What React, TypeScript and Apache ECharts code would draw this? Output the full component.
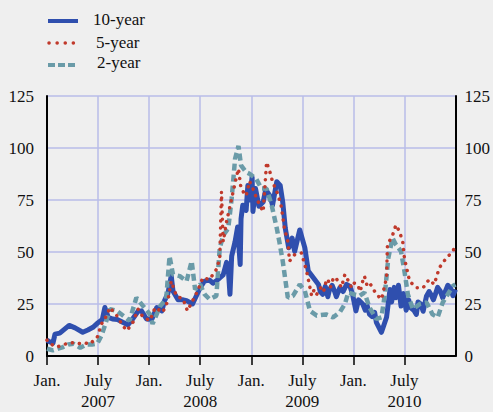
import React, { useEffect, useRef } from "react";
import * as echarts from "echarts";

// x positions are months since Jan. 2007
const tenYearMonths = [0, 0.23, 0.7, 0.94, 1.5, 2.6, 3.3, 4.2, 4.8, 5.4, 6.0, 6.5, 6.8, 7.2, 7.7, 8.3, 8.9, 9.5, 10.1, 10.7, 11.1, 11.7, 12.3, 12.9, 13.5, 13.8, 14.2, 14.6, 14.8, 15.4, 16.0, 16.4, 17.1, 18.0, 18.5, 19.1, 19.5, 20.1, 20.7, 21.1, 21.3, 21.5, 21.7, 22.1, 22.4, 22.7, 22.8, 23.0, 23.4, 23.6, 23.8, 24.1, 24.2, 24.5, 24.9, 25.4, 25.7, 26.2, 26.5, 27.0, 27.4, 27.7, 28.0, 28.4, 28.8, 29.1, 29.7, 30.3, 30.7, 31.3, 31.9, 32.1, 32.4, 32.7, 33.0, 33.2, 33.5, 33.8, 34.0, 34.4, 34.8, 35.2, 35.6, 35.9, 36.3, 36.6, 37.1, 37.4, 37.6, 37.9, 38.2, 38.5, 38.7, 39.3, 39.9, 40.3, 40.5, 40.8, 41.0, 41.3, 41.6, 41.9, 42.2, 42.5, 42.7, 43.1, 43.4, 43.6, 43.9, 44.2, 44.6, 44.9, 45.1, 45.4, 45.7, 45.9, 46.2, 46.5, 46.9, 47.1, 47.4, 47.7, 48.0];
const tenYearValues = [7.6, 7, 6.2, 10.5, 11, 14.7, 13.5, 11.4, 12.5, 13.8, 16, 17.5, 23.3, 18.6, 17.8, 17.5, 16.2, 15, 18, 21.5, 21.7, 17.8, 17.5, 23.3, 21.7, 26.5, 30, 38.5, 31.3, 27, 27, 26.6, 25, 32.8, 36, 36.5, 35, 36.8, 39, 45, 42, 29.7, 48, 55, 62, 44, 66, 72.5, 70, 82, 75, 86, 69.5, 80.5, 72, 74, 80, 77, 72.5, 83.8, 82, 74, 61.4, 52, 56.7, 50.3, 60.6, 52, 40.8, 37.6, 34.4, 31, 29.7, 33.5, 28.5, 32, 34, 31, 28.5, 32.8, 31, 34.4, 33.5, 29.7, 21.7, 27, 25, 22, 24.5, 20, 19, 21, 16.2, 11.4, 18.6, 32, 26, 33, 28, 34, 24, 30, 22, 27, 23.3, 22, 20, 26, 25, 21.5, 28.9, 31, 29.7, 27, 30.5, 33, 31.3, 28, 32, 34, 32.8, 29, 32];

const fiveYearMonths = [0, 0.35, 1.2, 1.9, 2.7, 3.3, 3.9, 4.5, 5.0, 5.9, 6.4, 7.0, 7.4, 8.2, 8.9, 9.4, 10.1, 10.7, 11.3, 12.1, 12.7, 13.6, 14.2, 14.6, 15.2, 16.0, 16.5, 17.1, 17.7, 18.3, 19.1, 19.9, 20.3, 20.5, 20.7, 21.1, 21.7, 22.3, 22.5, 22.8, 23.4, 23.8, 24.2, 24.6, 25.0, 25.4, 25.8, 26.2, 26.5, 27.1, 27.5, 27.9, 28.3, 28.5, 29.1, 29.9, 30.5, 31.1, 31.4, 31.7, 32.2, 32.5, 32.8, 33.0, 33.3, 33.6, 33.9, 34.3, 34.6, 35.0, 35.3, 35.8, 36.1, 36.5, 36.8, 37.1, 37.3, 37.6, 37.9, 38.7, 39.3, 39.9, 40.0, 40.6, 41.0, 41.4, 41.8, 42.0, 42.6, 43.4, 44.2, 44.9, 45.5, 46.1, 46.9, 47.7, 48.0];
const fiveYearValues = [7.6, 5.9, 4.3, 5.5, 6.2, 6.5, 5.9, 6.3, 5.7, 9, 15.4, 19.4, 23.3, 19.4, 14.6, 12.2, 16.2, 22.5, 18.6, 17, 23.3, 21, 26.5, 36, 28.9, 27.3, 21.7, 26.5, 31.3, 37.6, 36.8, 41.6, 47, 79, 55, 64.6, 75.7, 86.8, 90, 80.5, 77, 84, 80.5, 76, 72.5, 69.4, 93.2, 88.4, 83.8, 78, 72.5, 61.4, 55, 45.6, 48.7, 49.5, 40.8, 28.9, 32, 29.7, 33, 31, 36, 37, 33, 36.8, 38, 35, 33, 39.2, 37, 32.8, 35, 34.4, 31, 36, 38.4, 34, 35.2, 29.7, 27.3, 37.6, 53.5, 58, 63, 60, 55, 47, 36, 32.8, 32.8, 36.8, 34.4, 42.4, 47, 50.3, 53.5];

const twoYearMonths = [0, 0.7, 1.3, 1.9, 2.5, 3.1, 3.9, 4.7, 5.3, 5.9, 6.4, 6.8, 7.4, 8.2, 9.2, 9.7, 10.5, 11.3, 12.1, 12.4, 13.3, 14.0, 14.4, 14.8, 15.6, 16.4, 17.0, 17.4, 18.0, 18.5, 19.1, 19.9, 20.3, 20.7, 21.3, 21.7, 22.1, 22.5, 22.8, 23.4, 23.8, 24.6, 25.2, 25.8, 26.4, 27.0, 27.3, 27.7, 28.3, 28.9, 29.7, 30.3, 30.9, 31.7, 32.8, 33.6, 34.4, 35.0, 35.4, 36.0, 36.7, 37.3, 37.9, 38.7, 39.3, 39.7, 40.1, 40.6, 41.0, 41.6, 42.0, 42.4, 43.0, 43.8, 44.6, 45.3, 45.9, 46.5, 47.1, 47.7, 48.0];
const twoYearValues = [3.5, 2.7, 3.5, 4.3, 5.5, 5.9, 4, 5.6, 5.5, 5.9, 9.8, 14.6, 22.5, 21.7, 18.6, 17, 28, 24, 20, 15.4, 24, 27.3, 48, 39.2, 38.4, 36, 45.6, 32, 34.4, 29.7, 27.3, 28.9, 51.9, 58, 61.4, 75.7, 94.8, 101, 91.6, 88.4, 87.6, 85, 80.5, 80.5, 72.5, 61.4, 55, 45.6, 28, 28.9, 34.4, 31.3, 21.7, 19.4, 20, 18.6, 21, 25, 30.5, 29.7, 28.9, 30.5, 23.3, 17.8, 18.6, 29.7, 47, 56.7, 53.5, 50.3, 40.8, 29.7, 22.5, 25, 25.7, 20, 18.6, 25.7, 29.7, 33.7, 34.4];

const yTicks = [0, 25, 50, 75, 100, 125];
const seriesNames = ["10-year", "5-year", "2-year"];
const startYear = 2007;

const BLUE = "#2f4fae";
const RED = "#c0392b";
const TEAL = "#6a9ba8";
const GRID = "#b9bde8";
const FONT = "Liberation Serif";

const pair = (xs: number[], ys: number[]) => xs.map((x, i) => [x, ys[i]]);

export default function App() {
  const ref = useRef<HTMLDivElement>(null);
  useEffect(() => {
    if (!ref.current) return;
    const chart = echarts.init(ref.current, null, { renderer: "svg" });
    const labelStyle = { fontFamily: FONT, fontSize: 17, color: "#111" };
    chart.setOption({
      animation: false,
      backgroundColor: "#efefef",
      grid: { left: 47, right: 37, top: 96, bottom: 52 },
      xAxis: {
        type: "value",
        min: 0,
        max: 48,
        interval: 6,
        axisLine: { show: true, lineStyle: { color: "#000", width: 2 } },
        axisTick: { show: true, length: 9, lineStyle: { color: "#000", width: 1.5 } },
        splitLine: { show: true, lineStyle: { color: GRID, width: 1.5 } },
        axisLabel: {
          ...labelStyle,
          margin: 14,
          lineHeight: 21,
          showMaxLabel: false,
          formatter: (v: number) => {
            const m = Math.round(v);
            if (m % 12 === 0) return "Jan.";
            return "July\n" + (startYear + Math.floor(m / 12));
          },
        },
      },
      yAxis: [
        {
          type: "value",
          min: 0,
          max: 125,
          interval: 25,
          position: "left",
          axisLine: { show: true, lineStyle: { color: "#000", width: 2 } },
          axisTick: { show: false },
          splitLine: { show: true, lineStyle: { color: GRID, width: 1.5 } },
          axisLabel: { ...labelStyle, margin: 13, formatter: (v: number) => (yTicks.includes(v) ? String(v) : "") },
        },
        {
          type: "value",
          min: 0,
          max: 125,
          interval: 25,
          position: "right",
          axisLine: { show: true, lineStyle: { color: "#000", width: 2 } },
          axisTick: { show: false },
          splitLine: { show: false },
          axisLabel: { ...labelStyle, margin: 9, formatter: (v: number) => (yTicks.includes(v) ? String(v) : "") },
        },
      ],
      series: [
        {
          name: seriesNames[0],
          type: "line",
          data: pair(tenYearMonths, tenYearValues),
          showSymbol: false,
          symbol: "none",
          lineStyle: { color: BLUE, width: 5, join: "round" },
          z: 2,
        },
        {
          name: seriesNames[2],
          type: "line",
          data: pair(twoYearMonths, twoYearValues),
          showSymbol: false,
          symbol: "none",
          lineStyle: { color: TEAL, width: 4.5, type: [7, 4] },
          z: 3,
        },
        {
          name: seriesNames[1],
          type: "line",
          data: pair(fiveYearMonths, fiveYearValues),
          showSymbol: false,
          symbol: "none",
          lineStyle: { color: RED, width: 3.5, type: [0.1, 7], cap: "round" },
          z: 4,
        },
      ],
      graphic: [
        { type: "line", shape: { x1: 48, y1: 21, x2: 78, y2: 21 }, style: { stroke: BLUE, lineWidth: 4 } },
        { type: "line", shape: { x1: 49, y1: 43, x2: 75, y2: 43 }, style: { stroke: RED, lineWidth: 3.5, lineDash: [0.1, 8], lineCap: "round" } },
        { type: "line", shape: { x1: 48, y1: 65, x2: 76, y2: 65 }, style: { stroke: TEAL, lineWidth: 4, lineDash: [7, 3] } },
        { type: "text", x: 93, y: 19, style: { text: seriesNames[0], font: `17px ${FONT}`, fill: "#111", verticalAlign: "middle", textVerticalAlign: "middle" } },
        { type: "text", x: 96, y: 42, style: { text: seriesNames[1], font: `17px ${FONT}`, fill: "#111", verticalAlign: "middle", textVerticalAlign: "middle" } },
        { type: "text", x: 97, y: 62, style: { text: seriesNames[2], font: `17px ${FONT}`, fill: "#111", verticalAlign: "middle", textVerticalAlign: "middle" } },
      ],
    });
    return () => chart.dispose();
  }, []);
  return (
    <div
      ref={ref}
      style={{ position: "fixed", left: 0, top: 0, width: 493, height: 412, background: "#efefef" }}
    />
  );
}
